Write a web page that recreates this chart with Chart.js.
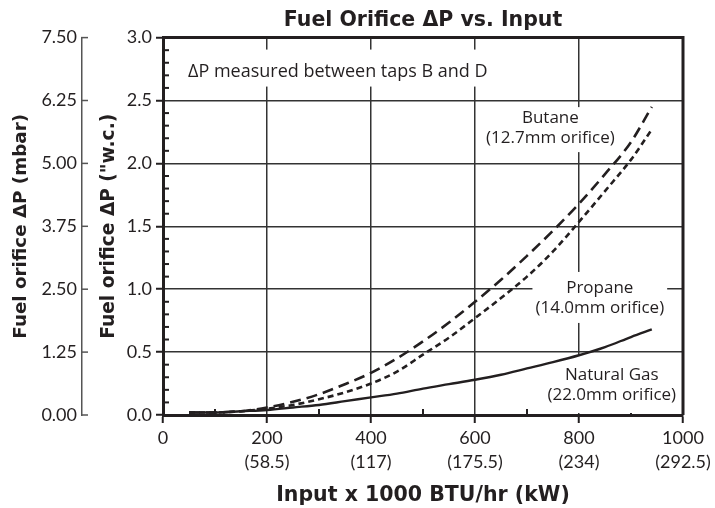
<!DOCTYPE html>
<html>
<head>
<meta charset="utf-8">
<script src="https://cdn.jsdelivr.net/npm/chart.js@4.4.0/dist/chart.umd.min.js"></script>
<style>
  html, body { margin: 0; padding: 0; background: #fff; }
</style>
</head>
<body>
<canvas id="c" width="715" height="508"></canvas>
<script>
// input x 1000 BTU/hr
const inputs     = [50, 100, 150, 200, 250, 300, 350, 400, 450, 500, 550, 600, 650, 700, 750, 800, 850, 900, 940];
// fuel orifice dP ("w.c.)
const butane     = [0.02, 0.02, 0.03, 0.06, 0.105, 0.165, 0.245, 0.335, 0.45, 0.585, 0.735, 0.90, 1.075, 1.265, 1.465, 1.68, 1.915, 2.17, 2.45];
const propane    = [0.02, 0.02, 0.03, 0.05, 0.08, 0.125, 0.18, 0.25, 0.345, 0.48, 0.615, 0.77, 0.93, 1.10, 1.30, 1.535, 1.78, 2.03, 2.27];
const naturalGas = [0.02, 0.02, 0.03, 0.04, 0.06, 0.08, 0.11, 0.14, 0.17, 0.21, 0.245, 0.28, 0.32, 0.37, 0.42, 0.475, 0.54, 0.62, 0.68];
// x tick labels: BTU and (kW)
const btuTicks = [0, 200, 400, 600, 800, 1000];
const kwLabels = ['', '(58.5)', '(117)', '(175.5)', '(234)', '(292.5)'];

const ink = '#231f20';
const clear = 'rgba(0,0,0,0)';
const bold = size => ({ family: 'DejaVu Sans', size: size, weight: 'bold' });
Chart.defaults.font.family = 'Lato';
Chart.defaults.color = ink;

const pts = ys => inputs.map((x, i) => ({ x: x, y: ys[i] }));
const isMajorY = v => Math.round(v * 10) % 5 === 0;

// text notes on the plot, anchored in data units; pad = white box above first / below last line
const notes = [
  { x: 48,  y: 2.73, lines: ['\u0394P measured between taps B and D'], align: 'left', size: 18, pad: [22, 15] },
  { x: 745, y: 2.36, lines: ['Butane', '(12.7mm orifice)'], align: 'center', size: 17, pad: [11, 14] },
  { x: 840, y: 1.01, lines: ['Propane', '(14.0mm orifice)'], align: 'center', size: 17, pad: [16, 15] },
  { x: 863, y: 0.318, lines: ['Natural Gas', '(22.0mm orifice)'], align: 'center', size: 17, pad: [20, 0], toBottom: true }
];

const decor = {
  id: 'decor',
  beforeDatasetsDraw(chart) {
    const { ctx, chartArea: a, scales: { x, y, y2 } } = chart;
    const line = (x1, y1, x2, y2_) => { ctx.beginPath(); ctx.moveTo(x1, y1); ctx.lineTo(x2, y2_); ctx.stroke(); };
    ctx.save();
    // minor ticks inside the plot
    ctx.strokeStyle = ink;
    ctx.lineWidth = 2;
    x.ticks.forEach(t => {
      if (t.value % 200 !== 0) { const px = x.getPixelForValue(t.value); line(px, a.bottom, px, a.bottom - 6); }
    });
    y.ticks.forEach(t => {
      if (!isMajorY(t.value)) { const py = y.getPixelForValue(t.value); line(a.left, py, a.left + 6, py); }
    });
    // mbar axis ticks point right
    ctx.strokeStyle = '#555';
    ctx.lineWidth = 1.5;
    y2.ticks.forEach(t => { const py = y2.getPixelForValue(t.value); line(y2.right - 1, py, y2.right + 6, py); });
    // frame top and right
    ctx.strokeStyle = ink;
    ctx.lineWidth = 3;
    ctx.beginPath();
    ctx.moveTo(a.left, a.top);
    ctx.lineTo(a.right, a.top);
    ctx.lineTo(a.right, a.bottom);
    ctx.stroke();
    // notes with white backing
    notes.forEach(n => {
      ctx.font = n.size + 'px "Open Sans"';
      const px = x.getPixelForValue(n.x);
      const py = y.getPixelForValue(n.y);
      const lh = 20;
      const w = Math.max(...n.lines.map(s => ctx.measureText(s).width));
      const left = n.align === 'left' ? px : px - w / 2;
      const top = py - n.pad[0];
      const bottom = n.toBottom ? a.bottom - 2 : py + (n.lines.length - 1) * lh + n.pad[1];
      ctx.fillStyle = '#fff';
      ctx.fillRect(left - 3, top, w + 6, bottom - top);
      ctx.fillStyle = ink;
      ctx.textAlign = n.align;
      ctx.textBaseline = 'middle';
      n.lines.forEach((s, i) => ctx.fillText(s, px, py + i * lh));
    });
    ctx.restore();
  }
};

new Chart(document.getElementById('c'), {
  type: 'line',
  data: {
    datasets: [
      { label: 'Butane', data: pts(butane), yAxisID: 'y', borderColor: ink, borderWidth: 2.6, borderDash: [11, 6] },
      { label: 'Propane', data: pts(propane), yAxisID: 'y', borderColor: ink, borderWidth: 2.6, borderDash: [6, 4] },
      { label: 'Natural Gas', data: pts(naturalGas), yAxisID: 'y', borderColor: ink, borderWidth: 2.4 }
    ]
  },
  options: {
    responsive: false,
    animation: false,
    devicePixelRatio: 1,
    layout: { padding: { top: 0, right: 32, bottom: 0, left: 0 } },
    elements: { point: { radius: 0 }, line: { cubicInterpolationMode: 'monotone' } },
    plugins: {
      legend: { display: false },
      tooltip: { enabled: false },
      title: {
        display: true,
        text: 'Fuel Orifice \u0394P vs. Input',
        fullSize: false,
        color: ink,
        font: bold(20.5),
        padding: { top: 8, bottom: 5 }
      }
    },
    scales: {
      x: {
        type: 'linear', min: 0, max: 1000,
        ticks: {
          stepSize: 100, autoSkip: false, maxRotation: 0, padding: 3, color: ink,
          font: { size: 18, lineHeight: 1.35 },
          callback: v => {
            const i = btuTicks.indexOf(v);
            if (i < 0) return '';
            return i === 0 ? '0' : [String(v), kwLabels[i]];
          }
        },
        grid: {
          color: c => (c.tick && c.tick.value % 200 === 0 && c.tick.value > 0 && c.tick.value < 1000) ? '#333' : clear,
          tickColor: c => (c.tick && c.tick.value % 200 === 0) ? ink : clear,
          lineWidth: 1.5, tickWidth: 2, tickLength: 8
        },
        border: { color: ink, width: 3 },
        title: { display: true, text: 'Input x 1000 BTU/hr (kW)', color: ink, font: bold(20.5), padding: { top: 0, bottom: 0 } },
        afterFit: s => { s.height = 93; }
      },
      y2: {
        position: 'left', weight: 1, min: 0, max: 7.5,
        ticks: { stepSize: 1.25, padding: 5, color: ink, font: { size: 18 }, callback: v => v.toFixed(2) },
        grid: { display: false, drawTicks: false, drawOnChartArea: false },
        border: { color: '#555', width: 1.5 },
        title: { display: true, text: 'Fuel orifice \u0394P (mbar)', color: ink, font: bold(18.3), padding: { top: 10, bottom: 0 } },
        afterFit: s => { s.width = 82; }
      },
      y: {
        position: 'left', weight: 0, min: 0, max: 3,
        ticks: { stepSize: 0.1, autoSkip: false, padding: 4, color: ink, font: { size: 18 }, callback: v => isMajorY(v) ? v.toFixed(1) : '' },
        grid: {
          color: c => (c.tick && isMajorY(c.tick.value) && c.tick.value > 0.01 && c.tick.value < 2.99) ? '#333' : clear,
          tickColor: c => (c.tick && isMajorY(c.tick.value)) ? ink : clear,
          lineWidth: 1.5, tickWidth: 2, tickLength: 7
        },
        border: { color: ink, width: 3 },
        title: { display: true, text: 'Fuel orifice \u0394P ("w.c.)', color: ink, font: bold(18.6), padding: { top: 16, bottom: 0 } },
        afterFit: s => { s.width = 81; }
      }
    }
  },
  plugins: [decor]
});
</script>
</body>
</html>
